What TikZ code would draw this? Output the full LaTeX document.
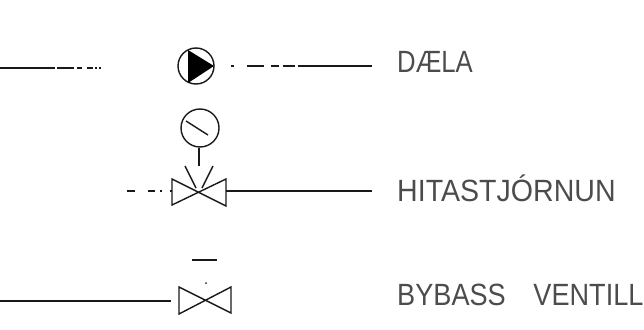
\documentclass[tikz,border=0pt]{standalone}
\usepackage{fontspec}
\setmainfont{Liberation Sans}
\tikzset{
  x=1pt,y=-1pt,
  pipe/.style={draw=black!90,line width=1.4pt},
  sym/.style={draw=black!90,line width=1.4pt,line join=miter},
  lbl/.style={anchor=base west,inner sep=0pt,text=black!70,font=\fontsize{24}{24}\selectfont},
  round/.style={circle,draw=black!90,line width=1.4pt,inner sep=0pt,fill=white}
}
\begin{document}
\begin{tikzpicture}
\useasboundingbox (0,0) rectangle (644,329);
% labels
\node[lbl,xscale=1.07,yscale=1.28] (lA) at (397,72.5) {DÆLA};
\node[lbl,xscale=1.19,yscale=1.28] (lB) at (397,201.5) {HITASTJÓRNUN};
\node[lbl,xscale=1.13,yscale=1.28] (lC) at (397,305) {BYBASS\hspace{24.5pt}VENTILL};
\coordinate (eA) at (372,66);
\coordinate (eB) at (372,191);
% top line
\coordinate (s1) at (0,68);
\coordinate (s1e) at (102,68);
\draw[pipe,dash pattern=on 55pt off 2pt on 17pt off 3pt on 5pt off 5pt on 6pt off 2pt on 2pt off 2pt on 2pt] (s1) -- (s1e);
% pump
\node[round,minimum size=36pt] (pump) at (196,66) {};
\coordinate (t1) at (188,50);
\coordinate (t2) at (214,66);
\coordinate (t3) at (188,83);
\fill[black] (t1) -- (t2) -- (t3) -- cycle;
\draw[pipe,dash pattern=on 0pt off 16pt on 3pt off 13pt on 17pt off 7pt on 8pt off 4pt on 12pt off 3pt on 200pt] (pump.east) -- (eA);
% gauge
\node[round,minimum size=38pt] (gauge) at (200,128) {};
\coordinate (n1) at (186,121);
\coordinate (n2) at (208,135);
\draw[sym] (n1) -- (n2);
\coordinate (g) at (199,166);
\draw[sym] (gauge.south -| g) -- (g);
% control valve
\coordinate (vc) at (199,191);
\coordinate (vl1) at (172,179);
\coordinate (vl2) at (172,205);
\coordinate (vr1) at (226,179);
\coordinate (vr2) at (226,206);
\draw[sym] (vl1) -- (vr2) -- (vr1) -- (vl2) -- cycle;
\coordinate (d1) at (185,166);
\coordinate (d1e) at (196,188);
\coordinate (d2) at (213,166);
\coordinate (d2e) at (202,188);
\draw[sym] (d1) -- (d1e);
\draw[sym] (d2) -- (d2e);
\coordinate (p1) at (127,191);
\draw[pipe,dash pattern=on 8pt off 13pt on 7pt off 5pt on 2pt off 8pt on 2pt] (p1) -- (vl1 |- vc);
\draw[pipe] (vr1 |- vc) -- (eB);
% bypass valve
\coordinate (bc) at (205,300);
\coordinate (bl1) at (179,287);
\coordinate (bl2) at (179,314);
\coordinate (br1) at (231,287);
\coordinate (br2) at (231,313);
\draw[sym] (bl1) -- (br2) -- (br1) -- (bl2) -- cycle;
\coordinate (p2) at (0,301);
\coordinate (p2e) at (171,301);
\draw[pipe] (p2) -- (p2e);
\coordinate (b1) at (192,260);
\coordinate (b2) at (217,260);
\draw[sym] (b1) -- (b2);
\fill[black!85] (206,283) circle (1pt);
\end{tikzpicture}
\end{document}
